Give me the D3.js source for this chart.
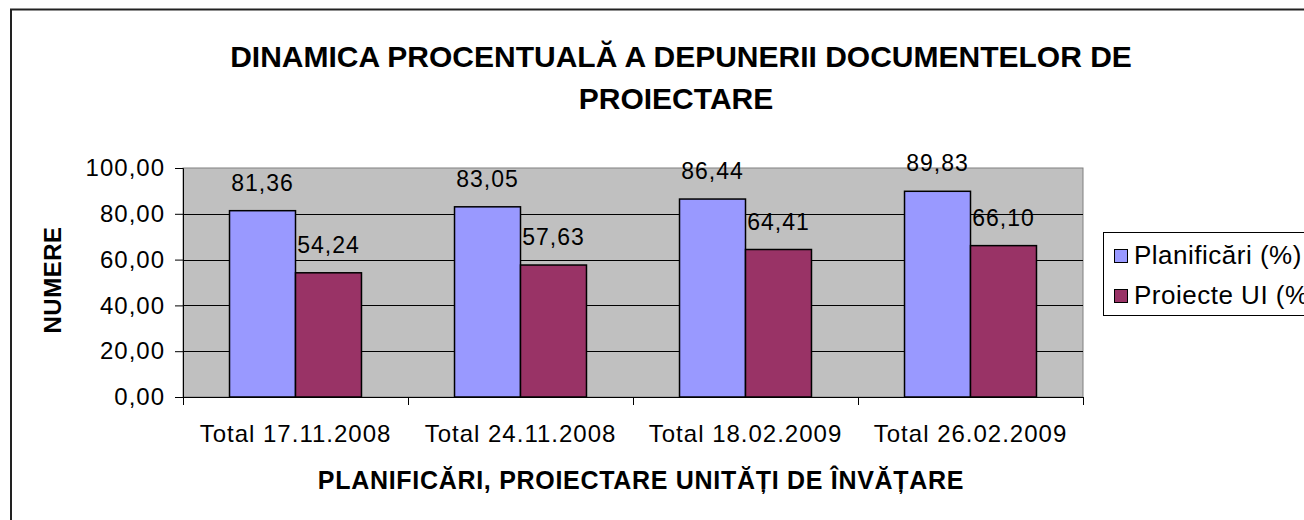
<!DOCTYPE html>
<html>
<head>
<meta charset="utf-8">
<script src="https://cdn.jsdelivr.net/npm/d3@7"></script>
<style>
  body { margin: 0; background: #fff; }
  text { font-family: "Liberation Sans", Arial, sans-serif; fill: #000; }
</style>
</head>
<body>
<div id="chart"></div>
<script>
var categories = ["Total 17.11.2008", "Total 24.11.2008", "Total 18.02.2009", "Total 26.02.2009"]
var seriesNames = ["Planificări (%)", "Proiecte UI (%)"]
var planificari = [81.36, 83.05, 86.44, 89.83]
var proiecteUI = [54.24, 57.63, 64.41, 66.10]
var yTicks = [0, 20, 40, 60, 80, 100]
var colors = ["#9999FF", "#993366"]

var svgSize = { width: 1304, height: 520 }

var svg = d3.select("#chart")
    .append("svg")
    .attr("width", svgSize.width)
    .attr("height", svgSize.height)

// outer chart border (runs off the right and bottom of the picture)
svg.append("rect")
    .attr("x", 11).attr("y", 9.5)
    .attr("width", 1400).attr("height", 600)
    .attr("fill", "white")
    .attr("stroke", "#222").attr("stroke-width", 2)

var plot = { left: 183, right: 1083, top: 168, bottom: 397 }

var xScale = d3.scaleBand()
    .domain(categories)
    .range([plot.left, plot.right])

var xInner = d3.scaleBand()
    .domain(seriesNames)
    .range([0, xScale.bandwidth()])
    .paddingOuter(0.705)

var yScale = d3.scaleLinear()
    .domain([0, 100])
    .range([plot.bottom, plot.top])

var fmt = v => d3.format(".2f")(v).replace(".", ",")

// plot area
svg.append("rect")
    .attr("x", plot.left).attr("y", plot.top)
    .attr("width", plot.right - plot.left).attr("height", plot.bottom - plot.top)
    .attr("fill", "#C0C0C0")
    .attr("stroke", "#808080").attr("stroke-width", 1)

svg.append("g")
    .selectAll("line")
    .data(yTicks.filter(t => t > 0 && t < 100))
    .enter()
    .append("line")
    .attr("x1", plot.left).attr("x2", plot.right)
    .attr("y1", d => Math.round(yScale(d)) + 0.5)
    .attr("y2", d => Math.round(yScale(d)) + 0.5)
    .attr("stroke", "#000")

// bars
var rows = categories.map((c, i) => ({ cat: c, values: [planificari[i], proiecteUI[i]] }))

var groups = svg.append("g").attr("id", "bars")
    .selectAll("g")
    .data(rows)
    .enter()
    .append("g")
    .attr("transform", d => `translate(${xScale(d.cat)}, 0)`)

groups.selectAll("rect")
    .data(d => d.values.map((v, j) => ({ name: seriesNames[j], value: v, j: j })))
    .enter()
    .append("rect")
    .attr("x", d => xInner(d.name))
    .attr("y", d => yScale(d.value))
    .attr("width", xInner.bandwidth())
    .attr("height", d => yScale(0) - yScale(d.value))
    .attr("fill", d => colors[d.j])
    .attr("stroke", "#000").attr("stroke-width", 1.5)

groups.selectAll("text")
    .data(d => d.values.map((v, j) => ({ name: seriesNames[j], value: v })))
    .enter()
    .append("text")
    .attr("x", d => xInner(d.name) + xInner.bandwidth() / 2)
    .attr("y", d => yScale(d.value) - 20)
    .attr("text-anchor", "middle")
    .attr("font-size", 23)
    .attr("letter-spacing", 1)
    .text(d => fmt(d.value))

// y axis
var leftAxis = d3.axisLeft(yScale)
    .tickValues(yTicks)
    .tickSize(8)
    .tickPadding(10)
    .tickFormat(fmt)

var yAxis = svg.append("g")
    .attr("transform", `translate(${plot.left}, 0)`)
    .call(leftAxis)
yAxis.select(".domain").attr("stroke", "#000")
yAxis.selectAll("text").attr("font-size", 24).attr("letter-spacing", 1).attr("font-family", null)
yAxis.selectAll("line").attr("stroke", "#000")

// x axis
var bottomAxis = d3.axisBottom(xScale)
    .tickSize(0)
    .tickPadding(28)

var xAxis = svg.append("g")
    .attr("transform", `translate(0, ${plot.bottom})`)
    .call(bottomAxis)
xAxis.select(".domain").attr("stroke", "#000")
xAxis.selectAll("text").attr("font-size", 24).attr("letter-spacing", 1).attr("font-family", null)

// tick marks between the categories
xAxis.selectAll(".sep")
    .data(categories.concat(["end"]))
    .enter()
    .append("line")
    .attr("x1", (d, i) => Math.round(plot.left + i * xScale.step()) + 0.5)
    .attr("x2", (d, i) => Math.round(plot.left + i * xScale.step()) + 0.5)
    .attr("y1", 0).attr("y2", 8)
    .attr("stroke", "#000")

// titles
var title = svg.append("text")
    .attr("x", 681)
    .attr("text-anchor", "middle")
    .attr("font-size", 30)
    .attr("font-weight", "bold")
title.append("tspan").attr("x", 681).attr("y", 67).text("DINAMICA PROCENTUALĂ A DEPUNERII DOCUMENTELOR DE")
title.append("tspan").attr("x", 676).attr("y", 109).text("PROIECTARE")

svg.append("text")
    .attr("x", 641).attr("y", 489)
    .attr("text-anchor", "middle")
    .attr("font-size", 25)
    .attr("letter-spacing", 0.7)
    .attr("font-weight", "bold")
    .text("PLANIFICĂRI, PROIECTARE UNITĂȚI DE ÎNVĂȚARE")

svg.append("text")
    .attr("transform", "translate(61, 280) rotate(-90)")
    .attr("text-anchor", "middle")
    .attr("font-size", 24)
    .attr("letter-spacing", 0.5)
    .attr("font-weight", "bold")
    .text("NUMERE")

// legend
var legend = svg.append("g").attr("transform", "translate(1103, 232)")
legend.append("rect")
    .attr("x", 0.5).attr("y", 0.5)
    .attr("width", 300).attr("height", 83)
    .attr("fill", "white").attr("stroke", "#000")

var items = legend.selectAll(".item")
    .data(seriesNames)
    .enter()
    .append("g")
    .attr("transform", (d, i) => `translate(0, ${i * 40})`)

items.append("rect")
    .attr("x", 11.5).attr("y", 17.5)
    .attr("width", 13).attr("height", 13)
    .attr("fill", (d, i) => colors[i])
    .attr("stroke", "#000")

items.append("text")
    .attr("x", 31).attr("y", 32)
    .attr("font-size", 26)
    .attr("letter-spacing", 0.5)
    .text(d => d)
</script>
</body>
</html>
